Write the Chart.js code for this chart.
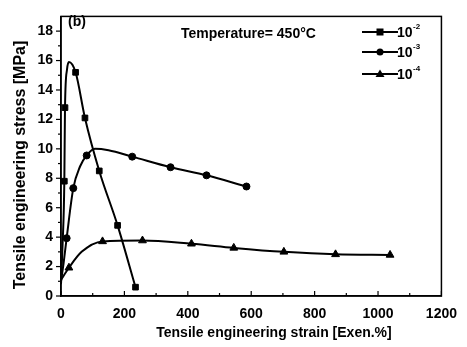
<!DOCTYPE html>
<html><head><meta charset="utf-8">
<script src="https://cdn.jsdelivr.net/npm/chart.js@4/dist/chart.umd.min.js"></script>
<style>html,body{margin:0;padding:0;background:#fff}#wrap{width:467px;height:347px}</style>
</head><body><div id="wrap"><canvas id="c" width="467" height="347"></canvas></div>
<script>
// Series labels (strain rates, exponent of 10)
const seriesExp = ['-2', '-3', '-4'];
const seriesStyle = ['rect', 'circle', 'triangle'];

// 10^-2 : curve points read along the line, and marker points
const curve2X = [0, 5, 10.5, 12.6, 19, 25, 46, 75.6, 120.7, 178.5, 235];
const curve2Y = [0.8, 3.5, 7.8, 12.8, 15.4, 15.9, 15.2, 12.1, 8.5, 4.8, 0.6];
const mark2X = [10.5, 12.6, 46, 75.6, 120.7, 178.5, 235];
const mark2Y = [7.8, 12.8, 15.2, 12.1, 8.5, 4.8, 0.6];

// 10^-3
const curve3X = [0, 8, 17.8, 38.8, 60, 81, 107, 150, 224.6, 345.5, 459, 585];
const curve3Y = [1.0, 2.2, 3.93, 7.33, 8.8, 9.55, 10.0, 9.9, 9.47, 8.75, 8.2, 7.44];
const mark3X = [17.8, 38.8, 81, 224.6, 345.5, 459, 585];
const mark3Y = [3.93, 7.33, 9.55, 9.47, 8.75, 8.2, 7.44];

// 10^-4
const curve4X = [0, 25, 65, 131, 257, 411.5, 545, 703, 866, 1038];
const curve4Y = [1.1, 1.92, 3.0, 3.71, 3.77, 3.55, 3.27, 3.0, 2.83, 2.79];
const mark4X = [25, 131, 257, 411.5, 545, 703, 866, 1038];
const mark4Y = [1.92, 3.71, 3.77, 3.55, 3.27, 3.0, 2.83, 2.79];

const xTicks = [0, 200, 400, 600, 800, 1000, 1200];
const yTicks = [0, 2, 4, 6, 8, 10, 12, 14, 16, 18];

const xTitle = 'Tensile engineering strain [Exen.%]';
const yTitle = 'Tensile engineering stress [MPa]';
const annotation = 'Temperature= 450\u00B0C';
const panelLabel = '(b)';

const pts = (xs, ys) => xs.map((x, i) => ({x: x, y: ys[i]}));
const FONT = '"Liberation Sans", Arial, sans-serif';

function curveDs(xs, ys) {
  return {data: pts(xs, ys), showLine: true, borderColor: '#000', borderWidth: 2,
    pointRadius: 0, cubicInterpolationMode: 'monotone', fill: false};
}
function markDs(xs, ys, style, r) {
  return {data: pts(xs, ys), showLine: false, pointStyle: style, pointRadius: r,
    backgroundColor: '#000', borderColor: '#000', borderWidth: 1};
}

const decor = {
  id: 'decor',
  afterDraw(chart) {
    const ctx = chart.ctx, a = chart.chartArea;
    const xs = chart.scales.x, ys = chart.scales.y;
    ctx.save();
    ctx.strokeStyle = '#000';
    ctx.lineWidth = 1.5;
    ctx.strokeRect(a.left, a.top, a.right - a.left, a.bottom - a.top);
    ctx.lineWidth = 1.2;
    // x ticks (inward), major and minor
    for (let v = 0; v <= 1200; v += 100) {
      const p = xs.getPixelForValue(v);
      const len = (v % 200 === 0) ? 5 : 3;
      ctx.beginPath(); ctx.moveTo(p, a.bottom); ctx.lineTo(p, a.bottom - len); ctx.stroke();
    }
    // y ticks (outward)
    for (let v = 0; v <= 18; v += 1) {
      const p = ys.getPixelForValue(v);
      const len = (v % 2 === 0) ? 5 : 3;
      ctx.beginPath(); ctx.moveTo(a.left, p); ctx.lineTo(a.left - len, p); ctx.stroke();
    }
    ctx.fillStyle = '#000';
    ctx.textBaseline = 'middle';
    // axis titles
    ctx.textAlign = 'center';
    ctx.font = 'bold 14px ' + FONT;
    ctx.fillText(xTitle, 274, 333);
    ctx.save();
    ctx.translate(21, 165);
    ctx.rotate(-Math.PI / 2);
    ctx.font = 'bold 16px ' + FONT;
    ctx.fillText(yTitle, 0, 0);
    ctx.restore();
    // panel label and annotation
    ctx.textAlign = 'left';
    ctx.font = 'bold 14px ' + FONT;
    ctx.fillText(panelLabel, 68, 22);
    ctx.font = 'bold 14px ' + FONT;
    ctx.fillText(annotation, 181, 34);
    // legend
    const rows = [32, 52, 74];
    for (let i = 0; i < 3; i++) {
      const y = rows[i];
      ctx.lineWidth = 2;
      ctx.beginPath(); ctx.moveTo(362, y); ctx.lineTo(398, y); ctx.stroke();
      const mx = 380;
      ctx.beginPath();
      if (seriesStyle[i] === 'rect') { ctx.fillRect(mx - 3.5, y - 3.5, 7, 7); }
      else if (seriesStyle[i] === 'circle') { ctx.arc(mx, y, 3.5, 0, Math.PI * 2); ctx.fill(); }
      else { ctx.moveTo(mx, y - 4.5); ctx.lineTo(mx + 4.5, y + 3); ctx.lineTo(mx - 4.5, y + 3); ctx.closePath(); ctx.fill(); }
      ctx.font = 'bold 14px ' + FONT;
      ctx.fillText('10', 397, y + 1);
      ctx.font = 'bold 8px ' + FONT;
      ctx.fillText(seriesExp[i], 413, y - 5);
    }
    ctx.restore();
  }
};

new Chart(document.getElementById('c'), {
  type: 'scatter',
  data: {datasets: [
    curveDs(curve2X, curve2Y), markDs(mark2X, mark2Y, 'rect', 4),
    curveDs(curve3X, curve3Y), markDs(mark3X, mark3Y, 'circle', 3.5),
    curveDs(curve4X, curve4Y), markDs(mark4X, mark4Y, 'triangle', 4.5)
  ]},
  options: {
    responsive: false, animation: false, devicePixelRatio: 1,
    layout: {padding: {left: 0, top: 7, right: 24, bottom: 0}},
    plugins: {legend: {display: false}, tooltip: {enabled: false}},
    scales: {
      x: {type: 'linear', min: 0, max: 1200,
        afterBuildTicks: s => { s.ticks = xTicks.map(v => ({value: v})); },
        afterFit: s => { s.height = 51; },
        grid: {display: false, drawTicks: false}, border: {display: true, color: '#000', width: 1.5},
        ticks: {color: '#000', font: {family: FONT, size: 14, weight: 'bold'}, padding: 10, maxRotation: 0,
          callback: v => String(v)}
      },
      y: {type: 'linear', min: 0, max: 19,
        afterBuildTicks: s => { s.ticks = yTicks.map(v => ({value: v})); },
        afterFit: s => { s.width = 61; },
        grid: {display: false, drawTicks: false}, border: {display: true, color: '#000', width: 1.5},
        ticks: {color: '#000', font: {family: FONT, size: 14, weight: 'bold'}, padding: 8,
          callback: v => String(v)}
      }
    }
  },
  plugins: [decor]
});
</script></body></html>
